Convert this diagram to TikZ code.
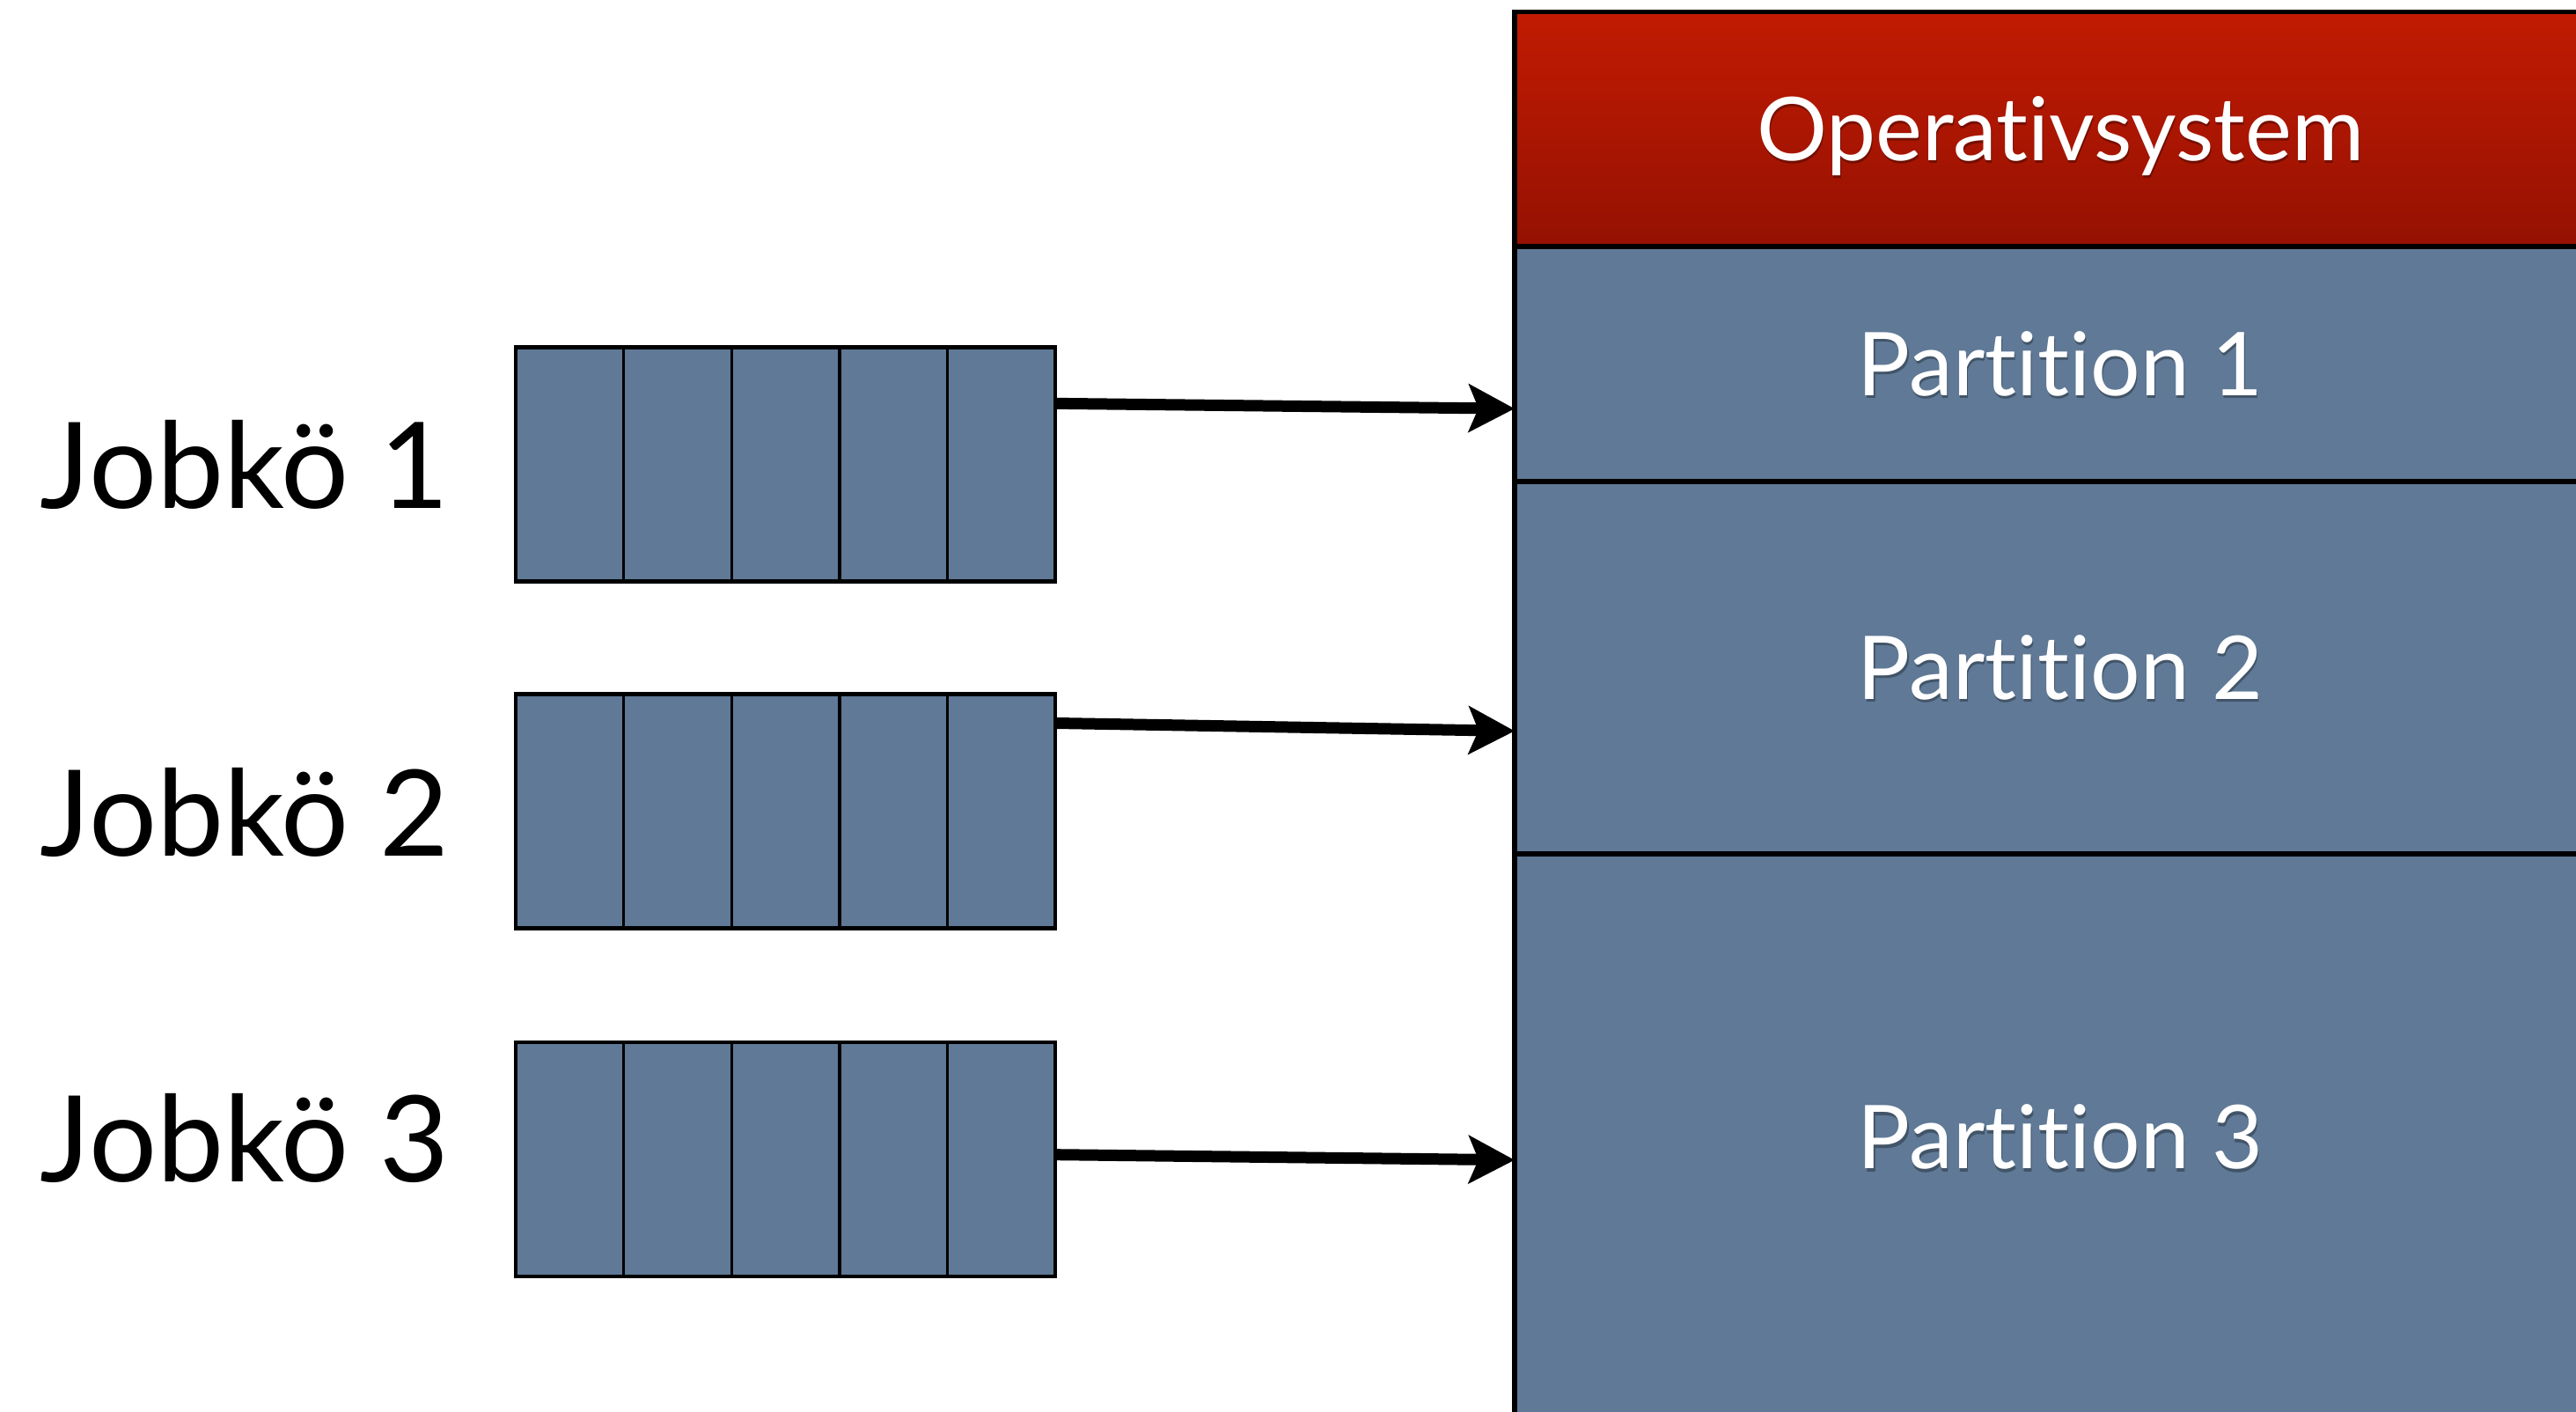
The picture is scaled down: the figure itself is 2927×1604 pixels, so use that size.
\documentclass[tikz,border=0pt]{standalone}
\usepackage{fontspec}
\setmainfont[Ligatures={NoCommon}]{Lato}
\usetikzlibrary{arrows.meta,calc}

\definecolor{slate}{RGB}{95,121,150}
\definecolor{ostop}{RGB}{193,27,2}
\definecolor{osbot}{RGB}{149,17,2}

\begin{document}
\begin{tikzpicture}[x=0.25pt,y=-0.25pt,
  mem/.style={draw=black, line width=1.3pt, fill=slate, minimum width=310pt,
    inner sep=0pt, outer sep=0pt},
  osbox/.style={mem, fill=none, top color=ostop, bottom color=osbot},
  queue/.style={draw=black, line width=1.2pt, fill=slate, minimum width=153.25pt,
    minimum height=66.5pt, inner sep=0pt, outer sep=0pt},
  divider/.style={draw=black, line width=0.85pt},
  conn/.style={draw=black, line width=3.25pt,
    -{Stealth[length=13pt, width=13.5pt, inset=2.75pt]}},
  biglabel/.style={text=white, inner sep=0pt, font=\fontsize{25}{30}\selectfont,
    text height=17.9pt, text depth=0pt},
  textshadow/.style={biglabel, text=black, opacity=0.3},
  joblabel/.style={anchor=base west, inner sep=0pt, font=\fontsize{34}{41}\selectfont}
]
\useasboundingbox (0,0) rectangle (2927,1604);
\fill[white] (0,0) rectangle (2927,1604);
\clip (0,0) rectangle (2927,1604);

% memory column: operating system on top, three partitions below
\node[osbox, minimum height=66.6pt]  (os) at (2341,146.75) {};
\node[mem, minimum height=66.75pt]  (p1) at (2341,413.5) {};
\node[mem, minimum height=105.75pt] (p2) at (2341,758.5) {};
\node[mem, minimum height=161pt]    (p3) at (2341,1292) {};

% labels with a soft drop shadow
\foreach \n/\t in {os/Operativsystem, p1/Partition 1, p2/Partition 2, p3/Partition 3}{
  \node[textshadow] (\n-shadow) at ([xshift=0.3pt,yshift=-0.8pt]\n.center) {\t};
  \node[biglabel] (\n-label) at (\n.center) {\t};
}

% job queues, five slots each
\node[queue] (q1) at (892.5,527.5) {};
\node[queue] (q2) at (892.5,921.5) {};
\node[queue] (q3) at (892.5,1317) {};
\foreach \q in {q1,q2,q3}{
  \foreach \k in {1,...,4}{
    \draw[divider] ($(\q.north west)!\k/5!(\q.north east)$) -- ($(\q.south west)!\k/5!(\q.south east)$);
  }
}

% queue names
\node[joblabel] (j1) at (45,578)  {Jobkö 1};
\node[joblabel] (j2) at (45,973)  {Jobkö 2};
\node[joblabel] (j3) at (45,1342) {Jobkö 3};

% each queue feeds its own partition
\draw[conn] ($(q1.north east)!0.24!(q1.south east)$) -- ($(p1.north west)!0.69!(p1.south west)$);
\draw[conn] ($(q2.north east)!0.124!(q2.south east)$) -- ($(p2.north west)!0.67!(p2.south west)$);
\draw[conn] ($(q3.north east)!0.48!(q3.south east)$) -- ($(p3.north west)!0.54!(p3.south west)$);
\end{tikzpicture}
\end{document}
